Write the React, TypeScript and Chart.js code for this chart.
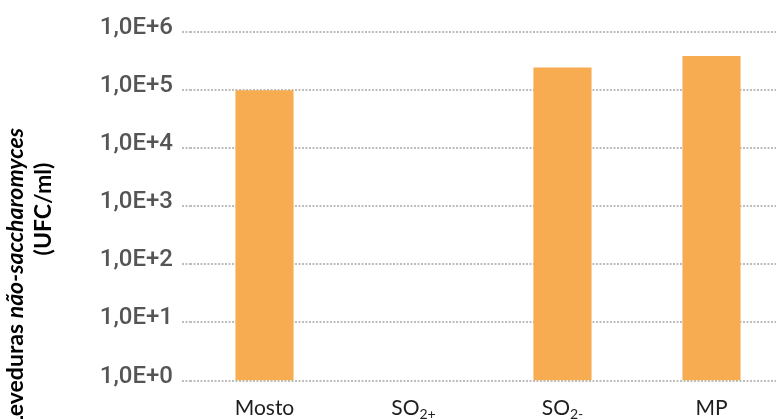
import React, { useEffect, useRef } from 'react';
import { Chart, registerables } from 'chart.js';

Chart.register(...registerables);

// Data
const categories = ['Mosto', 'SO_2+', 'SO_2-', 'MP'];
const counts: (number | null)[] = [9.8e4, null, 2.41e5, 3.79e5];
const yTickValues = [1, 10, 100, 1000, 1e4, 1e5, 1e6];
const yTickLabels = ['1,0E+0', '1,0E+1', '1,0E+2', '1,0E+3', '1,0E+4', '1,0E+5', '1,0E+6'];
const titlePlain = 'Leveduras ';
const titleItalic = 'não-saccharomyces';
const titleLine2 = '(UFC/ml)';

const labelPlugin = {
  id: 'customLabels',
  afterDraw(chart: any) {
    const ctx = chart.ctx as CanvasRenderingContext2D;
    const xs = chart.scales.x;
    ctx.save();
    ctx.fillStyle = '#1e1e1e';
    ctx.textBaseline = 'alphabetic';
    ctx.textAlign = 'left';
    categories.forEach((c, i) => {
      const [main, sub] = c.split('_');
      const x = xs.getPixelForValue(i);
      ctx.font = '21px Lato';
      const wm = ctx.measureText(main).width;
      let ws = 0;
      if (sub) {
        ctx.font = '14px Lato';
        ws = ctx.measureText(sub).width;
      }
      const start = x - (wm + ws) / 2;
      ctx.font = '21px Lato';
      ctx.fillText(main, start, 415);
      if (sub) {
        ctx.font = '14px Lato';
        ctx.fillText(sub, start + wm, 419);
      }
    });
    ctx.restore();

    // Y axis title
    ctx.save();
    ctx.fillStyle = '#000000';
    ctx.textBaseline = 'alphabetic';
    ctx.textAlign = 'left';
    const fBold = 'bold 23px Lato';
    const fItal = 'italic bold 23px Lato';
    ctx.font = fBold;
    const w1 = ctx.measureText(titlePlain).width;
    ctx.font = fItal;
    const w2 = ctx.measureText(titleItalic).width;
    ctx.translate(23, 128 + w1 + w2);
    ctx.rotate(-Math.PI / 2);
    ctx.font = fBold;
    ctx.fillText(titlePlain, 0, 0);
    ctx.font = fItal;
    ctx.fillText(titleItalic, w1, 0);
    ctx.restore();

    ctx.save();
    ctx.fillStyle = '#000000';
    ctx.textBaseline = 'alphabetic';
    ctx.textAlign = 'center';
    ctx.font = fBold;
    ctx.translate(51, 209);
    ctx.rotate(-Math.PI / 2);
    ctx.fillText(titleLine2, 0, 0);
    ctx.restore();
  },
};

export default function App() {
  const ref = useRef<HTMLCanvasElement | null>(null);

  useEffect(() => {
    if (!ref.current) return;
    const chart = new Chart(ref.current, {
      type: 'bar',
      data: {
        labels: categories,
        datasets: [
          {
            data: counts as any,
            backgroundColor: '#F7AC51',
            borderWidth: 0,
            categoryPercentage: 1,
            barPercentage: 0.39,
          },
        ],
      },
      options: {
        animation: false,
        responsive: true,
        maintainAspectRatio: false,
        layout: { padding: { top: 31.5, bottom: 38.5, left: 0, right: 0 } },
        plugins: {
          legend: { display: false },
          tooltip: { enabled: false },
        },
        scales: {
          x: {
            display: false,
            grid: { display: false },
          },
          y: {
            type: 'logarithmic',
            min: 1,
            max: 1e6,
            afterFit: (s: any) => {
              s.width = 190;
            },
            afterBuildTicks: (s: any) => {
              s.ticks = yTickValues.map((v) => ({ value: v }));
            },
            ticks: {
              callback: (v: any) => {
                const idx = yTickValues.findIndex((t) => Math.abs(t - Number(v)) < 1e-6 * t);
                return idx >= 0 ? yTickLabels[idx] : '';
              },
              font: { family: 'Roboto', size: 24, weight: '500' as any },
              color: '#555555',
              padding: 9,
              labelOffset: -4,
            },
            grid: {
              color: '#bdbdbd',
              lineWidth: 2,
              drawTicks: true,
              tickLength: 8,
              tickColor: '#bdbdbd',
              tickWidth: 2,
              tickBorderDash: [2, 1.5],
            } as any,
            border: { display: false, dash: [2, 1.5] },
          },
        },
      },
      plugins: [labelPlugin],
    });
    return () => chart.destroy();
  }, []);

  return (
    <div
      style={{
        position: 'fixed',
        left: 0,
        top: 0,
        width: 776,
        height: 419,
        overflow: 'hidden',
        background: '#ffffff',
      }}
    >
      <div style={{ position: 'relative', width: 786, height: 419 }}>
        <canvas ref={ref} />
      </div>
    </div>
  );
}
